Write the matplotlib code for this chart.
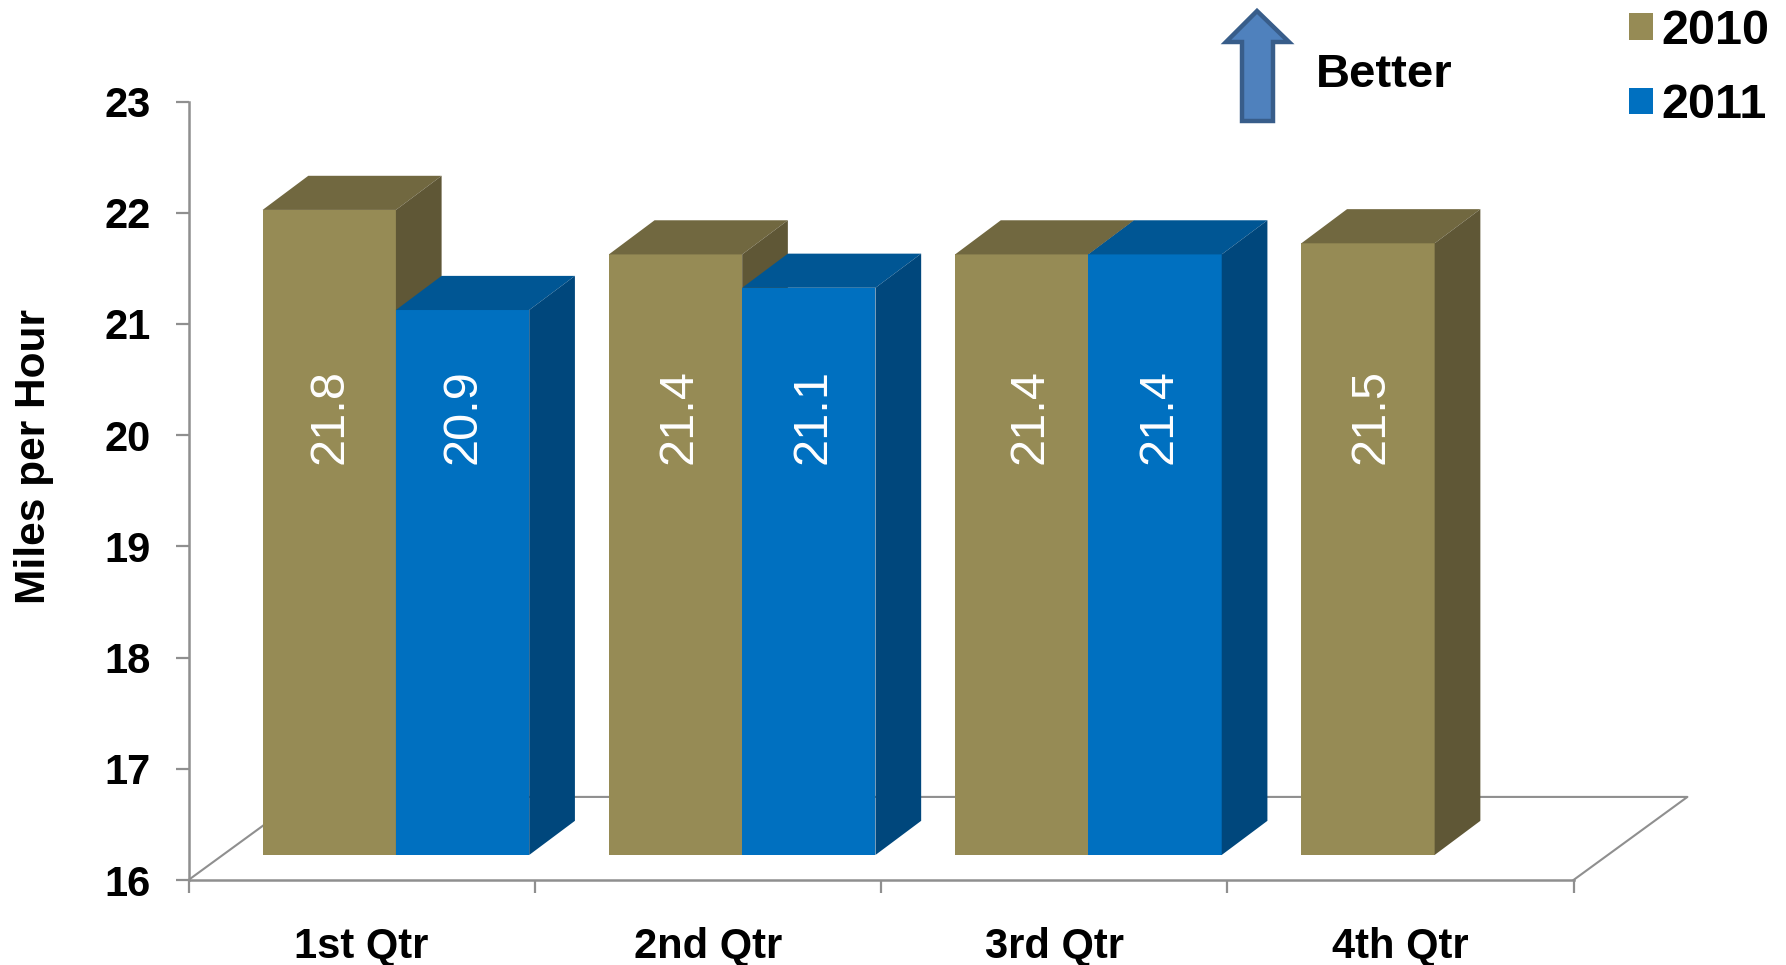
import matplotlib
matplotlib.use('Agg')
import matplotlib.pyplot as plt
from matplotlib.patches import Polygon
import numpy as np

plt.rcParams['font.family'] = ['Liberation Sans', 'DejaVu Sans']

quarters = ['1st Qtr', '2nd Qtr', '3rd Qtr', '4th Qtr']
values_2010 = [21.8, 21.4, 21.4, 21.5]
values_2011 = [20.9, 21.1, 21.4, np.nan]
y_ticks = [16, 17, 18, 19, 20, 21, 22, 23]

W, H = 1786, 965
fig = plt.figure(figsize=(W / 100, H / 100), dpi=100)
ax = fig.add_axes([188.5 / W, 1 - 880 / H, 1385 / W, 778.5 / H])
ax.set_xlim(0, 4)
ax.set_ylim(16, 23)

GREY = '#8f8f8f'
# fake 3d settings, in data units
lift = 0.225
bar_w = 0.385
shift = 0.099
dep_x, dep_y = 0.132, 0.307
floor_x, floor_y = 0.329, 0.747


def bars_3d(xs, vals, front, top, side, label, nudge=0.0):
    ax.bar(xs, np.array(vals) - 16, width=bar_w, bottom=16 + lift, align='edge',
           color=front, label=label, zorder=3, clip_on=False)
    for x, v in zip(xs, vals):
        if np.isnan(v):
            continue
        y0 = 16 + lift
        y1 = v + lift
        ax.fill([x, x + dep_x, x + bar_w + dep_x, x + bar_w],
                [y1, y1 + dep_y, y1 + dep_y, y1], color=top, lw=0, zorder=3, clip_on=False)
        ax.fill([x + bar_w, x + bar_w + dep_x, x + bar_w + dep_x, x + bar_w],
                [y0, y0 + dep_y, y1 + dep_y, y1], color=side, lw=0, zorder=3, clip_on=False)
        ax.text(x + bar_w / 2 + nudge, 20.17, f'{v:.1f}', color='white', fontsize=35, rotation=90,
                ha='center', va='center', zorder=5)


# floor
ax.plot([0, floor_x, 4 + floor_x, 4], [16, 16 + floor_y, 16 + floor_y, 16],
        color=GREY, lw=1.5, clip_on=False, zorder=1)

pos = np.arange(4) + 0.5 + shift
nudge_2010 = [0.003, 0.01, 0.025, 0.01]
nudge_2011 = [0, 0.013, 0.01, 0]
# each group is drawn in turn so the blue top sits over the tan side
for i in range(4):
    bars_3d([pos[i] - bar_w], [values_2010[i]], '#968B55', '#716840', '#5F5736',
            '2010' if i == 0 else None, nudge_2010[i])
    bars_3d([pos[i]], [values_2011[i]], '#0070C0', '#005694', '#00477C',
            '2011' if i == 0 else None, nudge_2011[i])

for s in ['top', 'right']:
    ax.spines[s].set_visible(False)
for s in ['left', 'bottom']:
    ax.spines[s].set_color(GREY)
    ax.spines[s].set_linewidth(1.8)

ax.set_yticks(y_ticks)
ax.set_xticks(range(5))
ax.set_xticklabels([])
ax.set_xticks(np.arange(4) + 0.5, quarters, minor=True)
ax.tick_params(axis='y', length=9.4, width=1.6, color=GREY, pad=18, labelsize=30)
ax.tick_params(axis='x', which='major', length=9.4, width=1.6, color=GREY)
ax.tick_params(axis='x', which='minor', length=0, pad=34, labelsize=30)
for t in ax.get_yticklabels() + ax.get_xticklabels(minor=True):
    t.set_fontweight('bold')

fig.text(34.5 / W, 1 - 457 / H, 'Miles per Hour', rotation=90, fontsize=30.5,
         fontweight='bold', ha='center', va='center')

# better arrow
arrow_px = [(1257, 11), (1289, 42), (1273, 42), (1273, 121), (1242, 121), (1242, 42), (1226, 42)]
fig.add_artist(Polygon([(x / W, 1 - y / H) for x, y in arrow_px], closed=True,
                       transform=fig.transFigure, facecolor='#4F81BD',
                       edgecolor='#385D8A', lw=3.2))
fig.text(1316 / W, 1 - 75 / H, 'Better', fontsize=34, fontweight='bold', ha='left', va='center')

handles, labels = ax.get_legend_handles_labels()
fig.legend(handles, labels, loc='upper left', bbox_to_anchor=(1629 / W, 1 - 9 / H),
           frameon=False, prop={'size': 35, 'weight': 'bold'}, borderpad=0, borderaxespad=0,
           handlelength=0.5, handleheight=0.46, handletextpad=0.175, labelspacing=0.6)

fig.savefig('out.png', dpi=100)
